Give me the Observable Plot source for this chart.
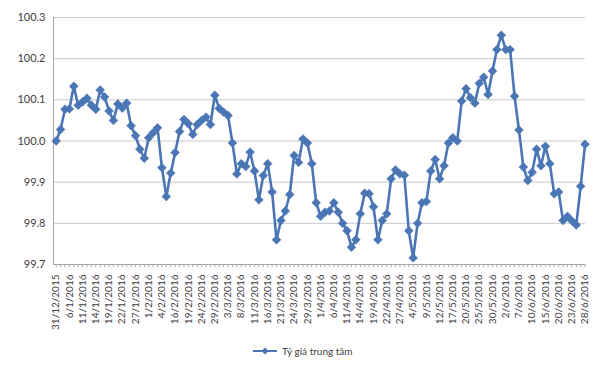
<!DOCTYPE html>
<html>
<head>
<meta charset="utf-8">
<script src="https://cdn.jsdelivr.net/npm/d3@7"></script>
<script src="https://cdn.jsdelivr.net/npm/@observablehq/plot@0.6"></script>
<style>
  html, body { margin: 0; padding: 0; background: #fff; }
  #chart { width: 600px; height: 340px; }
  #legend { width: 600px; height: 28px; position: relative; font-family: Lato, "Open Sans", sans-serif; font-size: 10px; color: #404040; }
  #legend .item { position: absolute; left: 252px; top: 5px; display: flex; align-items: center; }
  #legend svg { margin-right: 4px; }
</style>
</head>
<body>
<div id="chart"></div>
<div id="legend"><div class="item"><svg width="26" height="12"><line x1="1" y1="6" x2="25" y2="6" stroke="#4a76b5" stroke-width="2"/><path d="M13,2.5 L16.5,6 L13,9.5 L9.5,6 Z" fill="#4a76b5"/></svg><span>Tỷ giá trung tâm</span></div></div>
<script>
// Category tick labels (every third trading day)
const dateLabels = ["31/12/2015","6/1/2016","11/1/2016","14/1/2016","19/1/2016","22/1/2016","27/1/2016","1/2/2016","4/2/2016","16/2/2016","19/2/2016","24/2/2016","29/2/2016","3/3/2016","8/3/2016","11/3/2016","16/3/2016","21/3/2016","24/3/2016","29/3/2016","1/4/2016","6/4/2016","11/4/2016","14/4/2016","19/4/2016","22/4/2016","27/4/2016","4/5/2016","9/5/2016","12/5/2016","17/5/2016","20/5/2016","25/5/2016","30/5/2016","2/6/2016","7/6/2016","10/6/2016","15/6/2016","20/6/2016","23/6/2016","28/6/2016"];
const labelEvery = 3;

// Series: Tỷ giá trung tâm (index, 31/12/2015 = 100)
const rateValues = [
  100.000, 100.028, 100.077, 100.078, 100.133, 100.087, 100.095, 100.104, 100.087, 100.077,
  100.124, 100.107, 100.073, 100.050, 100.090, 100.080, 100.092, 100.037, 100.013, 99.980,
  99.958, 100.008, 100.020, 100.032, 99.935, 99.865, 99.922, 99.972, 100.023, 100.052,
  100.042, 100.016, 100.040, 100.050, 100.058, 100.040, 100.111, 100.079, 100.070, 100.062,
  99.995, 99.920, 99.945, 99.938, 99.973, 99.927, 99.857, 99.916, 99.945, 99.876,
  99.760, 99.807, 99.830, 99.870, 99.965, 99.948, 100.005, 99.995, 99.945, 99.850,
  99.817, 99.827, 99.830, 99.850, 99.827, 99.800, 99.782, 99.742, 99.760, 99.823,
  99.873, 99.872, 99.840, 99.760, 99.807, 99.823, 99.908, 99.930, 99.920, 99.917,
  99.782, 99.716, 99.800, 99.850, 99.853, 99.927, 99.955, 99.908, 99.940, 99.995,
  100.008, 100.000, 100.097, 100.127, 100.105, 100.092, 100.140, 100.155, 100.113, 100.170,
  100.222, 100.257, 100.222, 100.222, 100.109, 100.027, 99.937, 99.904, 99.924, 99.980,
  99.940, 99.987, 99.945, 99.872, 99.876, 99.807, 99.817, 99.806, 99.796, 99.890,
  99.992
];

// Y axis ticks
const yTicks = [99.7, 99.8, 99.9, 100.0, 100.1, 100.2, 100.3];

const data = rateValues.map((v, i) => ({i, v}));
const allIdx = rateValues.map((_, i) => i);
const labelIdx = dateLabels.map((_, k) => k * labelEvery);

const color = "#4a76b5";
const font = "Lato, 'Open Sans', sans-serif";

const chart = Plot.plot({
  width: 600,
  height: 340,
  marginLeft: 53,
  marginRight: 15,
  marginTop: 17,
  marginBottom: 76,
  style: {fontFamily: font, color: "#404040", background: "#fff"},
  x: {type: "linear", domain: [-0.6, 120.1], axis: null},
  y: {domain: [99.7, 100.3], axis: null},
  marks: [
    Plot.ruleY(yTicks.slice(1), {stroke: "#c9c9c9", strokeWidth: 1}),
    Plot.frame({anchor: "left", stroke: "#a6a6a6"}),
    Plot.ruleY([99.7], {stroke: "#a6a6a6"}),
    Plot.axisX(allIdx, {tickSize: 3, stroke: "#a6a6a6", tickFormat: () => "", label: null}),
    Plot.axisX(labelIdx, {tickSize: 0, tickPadding: 10, tickRotate: -90, fontSize: 10,
      tickFormat: i => dateLabels[i / labelEvery], label: null, fill: "#404040"}),
    Plot.axisY(yTicks, {tickSize: 0, tickPadding: 8, fontSize: 11, tickFormat: d3.format(".1f"),
      label: null, fill: "#404040"}),
    Plot.line(data, {x: "i", y: "v", stroke: color, strokeWidth: 2.6}),
    Plot.dot(data, {x: "i", y: "v", symbol: "diamond2", r: 4, fill: color, stroke: color, strokeWidth: 0.5})
  ]
});
document.getElementById("chart").appendChild(chart);
</script>
</body>
</html>
